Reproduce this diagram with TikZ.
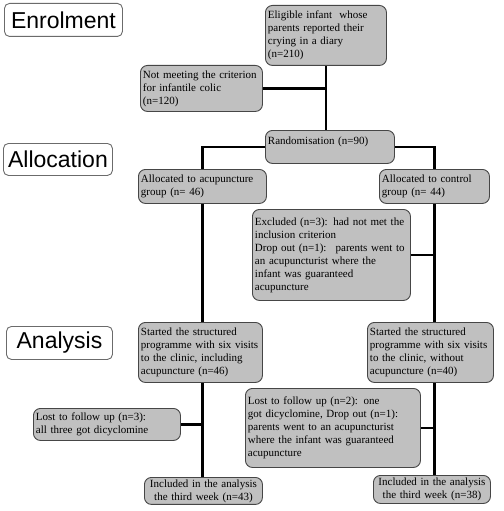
\documentclass[tikz,border=0pt]{standalone}
\usepackage{fontspec}
\setmainfont{Liberation Serif}
\newfontfamily\labfont{Liberation Sans}
\usetikzlibrary{backgrounds}
\definecolor{boxgray}{RGB}{192,192,192}
\definecolor{edgegray}{RGB}{70,70,70}
\tikzset{
  gbox/.style={draw=edgegray, line width=0.9pt, fill=boxgray, rounded corners=7pt,
    anchor=north west, inner xsep=2.5pt, inner ysep=2pt, align=left,
    font=\fontsize{11}{13}\selectfont},
  lab/.style={draw=edgegray!80, line width=0.9pt, fill=white, rounded corners=5pt,
    anchor=north west, inner sep=0pt, font=\labfont\fontsize{23}{26}\selectfont},
  link/.style={line width=2.6pt, black},
}
\newcommand{\gb}[7]{% name, x, y, w, h, align, text
  \node[gbox, minimum width=#4pt, minimum height=#5pt, text width=#4pt-5pt, align=#6] (#1) at (#2,#3) {#7};}
\begin{document}
\begin{tikzpicture}[x=1pt,y=-1pt]
\useasboundingbox (0,0) rectangle (503,511);
% stage labels
\node[lab, minimum width=118pt, minimum height=33pt] (enrol) at (4,3) {Enrolment};
\node[lab, minimum width=109pt, minimum height=32pt] (alloc) at (3,143) {Allocation};
\node[lab, minimum width=106pt, minimum height=33pt] (anal) at (6,326) {Analysis};
% boxes
\gb{elig}{265}{5}{121}{60}{left}{Eligible infant \ whose\\parents reported their\\crying in a diary\\(n=210)}
\gb{notmeet}{140}{65}{122}{46}{left}{Not meeting the criterion\\for infantile colic\\(n=120)}
\gb{rand}{265}{130}{129}{33}{left}{Randomisation (n=90)\\\mbox{}}
\gb{allocA}{138}{169}{128}{34}{left}{Allocated to acupuncture\\group (n= 46)}
\gb{allocC}{379}{169}{110}{34}{left}{Allocated to control\\group (n= 44)}
\gb{excl}{252}{209}{158}{91}{left}{Excluded (n=3): had not met the\\inclusion criterion\\Drop out (n=1): \ parents went to\\an acupuncturist where the\\infant was guaranteed\\acupuncture}
\gb{startL}{138}{322}{124}{60}{left}{Started the structured\\programme with six visits\\to the clinic, including\\acupuncture (n=46)}
\gb{startR}{367}{322}{126}{60}{left}{Started the structured\\programme with six visits\\to the clinic, without\\acupuncture (n=40)}
\gb{lostL}{33}{408}{147}{32}{left}{Lost to follow up (n=3):\\all three got dicyclomine}
\gb{lostR}{245}{388}{175}{79}{left}{Lost to follow up (n=2): one\\got dicyclomine, Drop out (n=1):\\parents went to an acupuncturist\\where the infant was guaranteed\\acupuncture}
\gb{inclL}{144}{477}{118}{26}{center}{Included in the analysis\\the third week (n=43)}
\gb{inclR}{373}{475}{117}{28}{center}{Included in the analysis\\the third week (n=38)}
% connectors
\begin{scope}[on background layer]
\draw[link] (elig.south) -- (elig.south |- rand.north);
\draw[link] (notmeet.east) -- (notmeet.east -| elig.south);
\draw[link] (rand.west) -| (allocA.north);
\draw[link] (rand.east) -| (allocC.north);
\draw[link] (allocA.south) -- (allocA.south |- inclL.north);
\draw[link] (allocC.south) -- (allocC.south |- inclR.north);
\draw[link] (excl.east) -- (excl.east -| allocC.south);
\draw[link] (lostL.east) -- (lostL.east -| allocA.south);
\draw[link] (lostR.east) -- (lostR.east -| allocC.south);
\end{scope}
\end{tikzpicture}
\end{document}
